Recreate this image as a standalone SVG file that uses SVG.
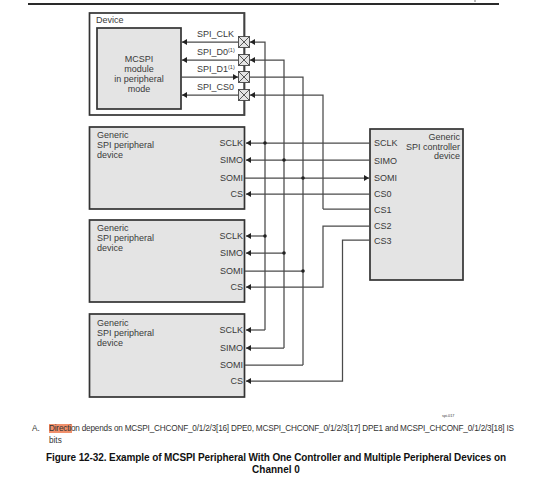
<svg xmlns="http://www.w3.org/2000/svg" width="547" height="479" viewBox="0 0 547 479">
<style>
text{font-family:"Liberation Sans",Arial,sans-serif;fill:#3a3a3a;font-size:9px}
.box{fill:#e4e4e4;stroke:#333;stroke-width:1.7}
.dev{fill:#fff;stroke:#333;stroke-width:1.7}
.w{fill:none;stroke:#4a4a4a;stroke-width:1.25}
.ar{fill:#222}
.x{fill:#e4e4e4;stroke:#444;stroke-width:.9}
.e{text-anchor:end}
.m{text-anchor:middle}
.n{font-size:8.200px;fill:#333}
.s{font-size:3.800px}
.f{font-size:10px;font-weight:bold;fill:#111;text-anchor:middle}
</style>
<defs>
<marker id="a" markerUnits="userSpaceOnUse" markerWidth="6" markerHeight="6" refX="5" refY="3" orient="auto-start-reverse"><path class="ar" d="M0 0L5 3L0 6Z"/></marker>
<circle id="d" r="1.8" fill="#222"/>
<g id="xb"><rect class="x" x="-5.500" y="-5.500" width="11" height="11"/><path class="x" d="M-5.500-5.500L5.500 5.500M-5.500 5.500L5.500-5.500"/></g>
</defs>
<path d="M28 4H499" stroke="#2a2a2a" stroke-width="1.8"/>
<path d="M475 0V2" stroke="#777" stroke-width="1"/>
<g id="device">
<rect class="dev" x="89.500" y="13" width="155" height="102"/>
<text x="96" y="23">Device</text>
<rect class="box" x="97" y="28" width="84" height="81"/>
<text class="m" x="139" y="62">MCSPI</text><text class="m" x="139" y="72">module</text><text class="m" x="139" y="82">in peripheral</text><text class="m" x="139" y="92">mode</text>
<text x="197" y="37">SPI_CLK</text><text x="197" y="55">SPI_D0<tspan dy="-3" font-size="5.500">(1)</tspan></text><text x="197" y="72">SPI_D1<tspan dy="-3" font-size="5.500">(1)</tspan></text><text x="197" y="90">SPI_CS0</text>
</g>
<g id="peripheral1"><rect class="box" x="89.500" y="127" width="155" height="82"/>
<text x="97" y="138">Generic</text><text x="97" y="148">SPI peripheral</text><text x="97" y="158">device</text>
<text class="e" x="243" y="146">SCLK</text><text class="e" x="243" y="163">SIMO</text><text class="e" x="243" y="181">SOMI</text><text class="e" x="243" y="197">CS</text></g>
<g id="peripheral2"><rect class="box" x="89.500" y="220" width="155" height="82"/>
<text x="97" y="231">Generic</text><text x="97" y="241">SPI peripheral</text><text x="97" y="251">device</text>
<text class="e" x="243" y="239">SCLK</text><text class="e" x="243" y="256">SIMO</text><text class="e" x="243" y="274">SOMI</text><text class="e" x="243" y="290">CS</text></g>
<g id="peripheral3"><rect class="box" x="89.500" y="314" width="155" height="83"/>
<text x="97" y="326">Generic</text><text x="97" y="336">SPI peripheral</text><text x="97" y="346">device</text>
<text class="e" x="243" y="333">SCLK</text><text class="e" x="243" y="351">SIMO</text><text class="e" x="243" y="368">SOMI</text><text class="e" x="243" y="384">CS</text></g>
<g id="controller"><rect class="box" x="370" y="129" width="93" height="151"/>
<text class="e" x="460" y="140">Generic</text><text class="e" x="460" y="150">SPI controller</text><text class="e" x="460" y="159">device</text>
<text x="374" y="146">SCLK</text><text x="374" y="164">SIMO</text><text x="374" y="181">SOMI</text><text x="374" y="197">CS0</text><text x="374" y="213">CS1</text><text x="374" y="229">CS2</text><text x="374" y="244">CS3</text></g>
<g id="connectors">
<path class="w" d="M244 13V115"/>
<path class="w" marker-end="url(#a)" d="M265 330V42H250"/>
<path class="w" marker-end="url(#a)" d="M284 348V60H250"/>
<path class="w" d="M303 365V77H250"/>
<path class="w" marker-end="url(#a)" d="M323 209V95H250"/>
<path class="w" marker-end="url(#a)" d="M238 42H182"/>
<path class="w" marker-end="url(#a)" d="M238 60H182"/>
<path class="w" marker-end="url(#a)" d="M181 77H238"/>
<path class="w" marker-end="url(#a)" d="M238 95H182"/>
<path class="w" marker-end="url(#a)" d="M370 143H246"/>
<path class="w" marker-end="url(#a)" d="M370 160H246"/>
<path class="w" marker-end="url(#a)" d="M245 178H369"/>
<path class="w" marker-end="url(#a)" d="M370 194H246"/>
<path class="w" d="M370 209H323"/>
<path class="w" marker-end="url(#a)" d="M370 226H323V287H246"/>
<path class="w" marker-end="url(#a)" d="M370 240H342.500V381H246"/>
<path class="w" marker-end="url(#a)" d="M265 236H246"/>
<path class="w" marker-end="url(#a)" d="M284 253H246"/>
<path class="w" d="M303 271H245"/>
<path class="w" marker-end="url(#a)" d="M265 330H246"/>
<path class="w" marker-end="url(#a)" d="M284 348H246"/>
<path class="w" d="M303 365H245"/>
<use href="#xb" x="244" y="42"/><use href="#xb" x="244" y="60"/><use href="#xb" x="244" y="77"/><use href="#xb" x="244" y="95"/>
<use href="#d" x="265" y="143"/><use href="#d" x="284" y="160"/><use href="#d" x="303" y="178"/><use href="#d" x="265" y="236"/><use href="#d" x="284" y="253"/><use href="#d" x="303" y="271"/>
</g>
<text class="s" x="442" y="417">spi-017</text>
<rect x="49" y="424" width="23" height="9" fill="#f0906c"/>
<text class="n" x="32" y="431">A.</text>
<text class="n" x="49" y="431" textLength="465">Direction depends on MCSPI_CHCONF_0/1/2/3[16] DPE0, MCSPI_CHCONF_0/1/2/3[17] DPE1 and MCSPI_CHCONF_0/1/2/3[18] IS</text>
<text class="n" x="49" y="443">bits</text>
<text class="f" x="276" y="461" textLength="460">Figure 12-32. Example of MCSPI Peripheral With One Controller and Multiple Peripheral Devices on</text>
<text class="f" x="276" y="473">Channel 0</text>
</svg>
